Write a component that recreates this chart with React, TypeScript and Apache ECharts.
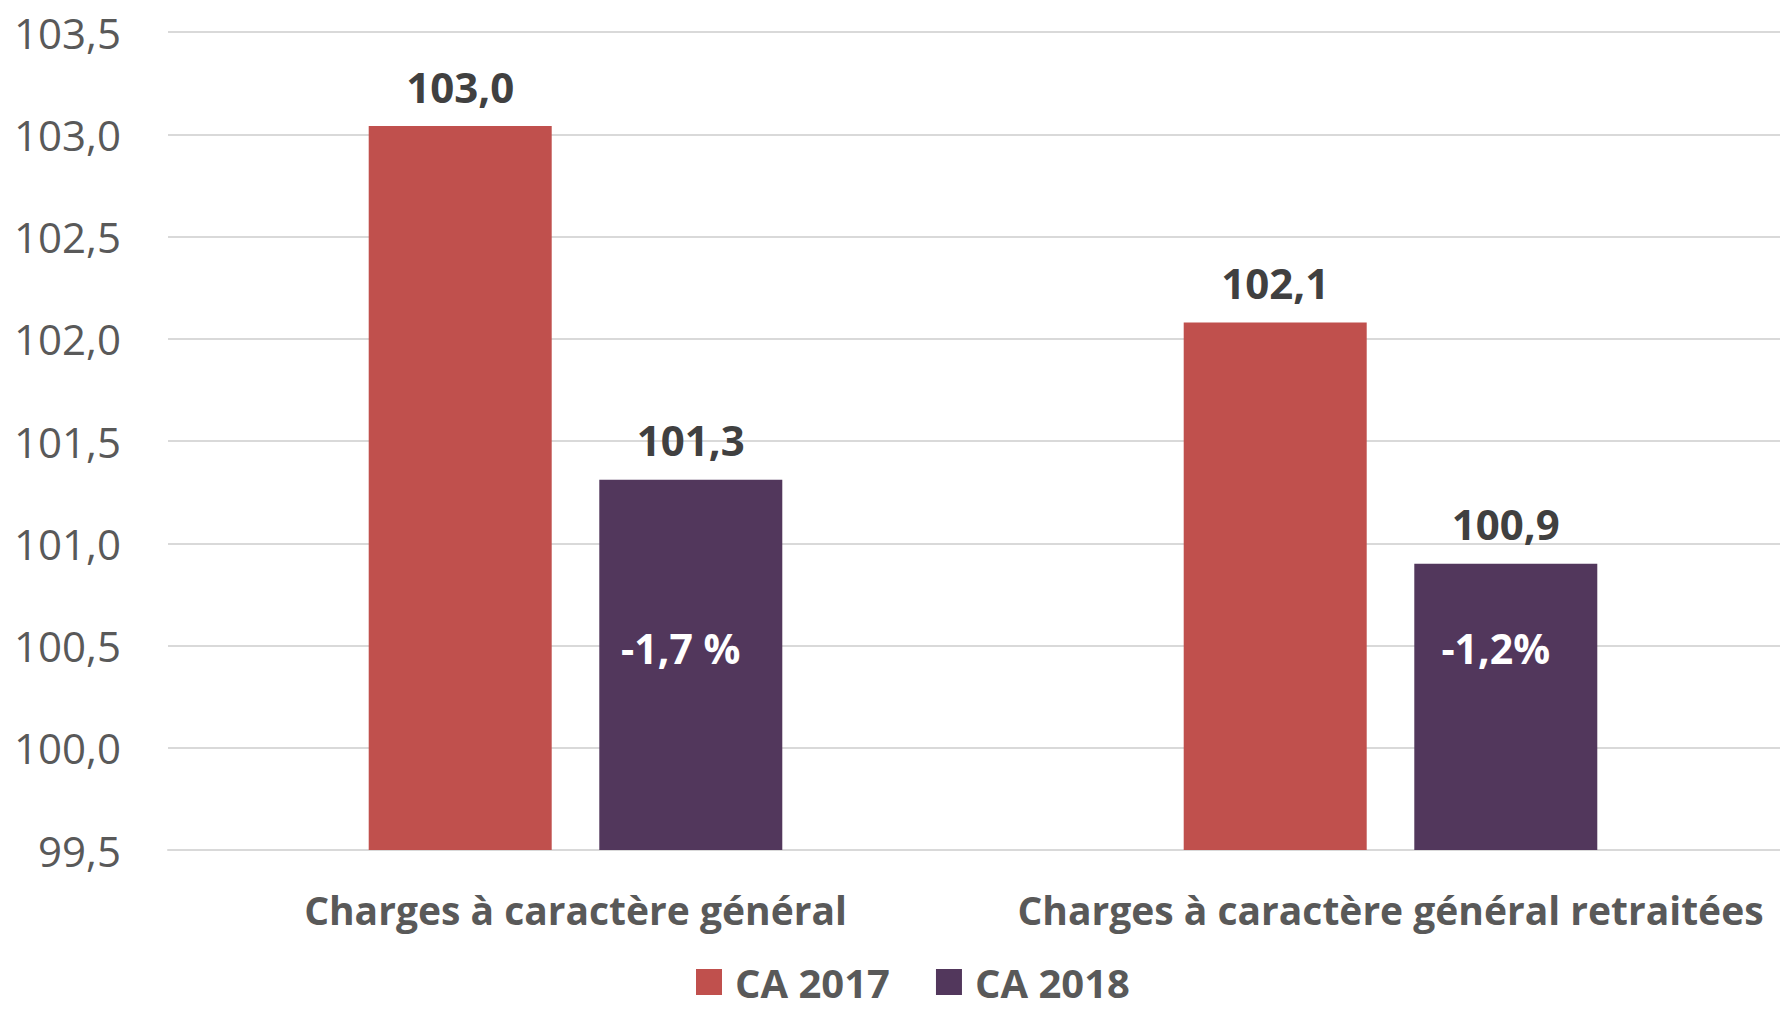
import React, { useEffect, useRef } from "react";
import * as echarts from "echarts";

const categories = ["Charges à caractère général", "Charges à caractère général retraitées"];
const seriesNames = ["CA 2017", "CA 2018"];
const values2017 = [103.04, 102.08];
const values2018 = [101.31, 100.9];
const valueLabels2017 = ["103,0", "102,1"];
const valueLabels2018 = ["101,3", "100,9"];
const changeLabels = ["-1,7 %", "-1,2%"];
const changeLabelLevel = 100.49;
const yTicks = { min: 99.5, max: 103.5, interval: 0.5 };

const FONT = "'Open Sans', 'Noto Sans', sans-serif";
const RED = "#C0504D";
const PURPLE = "#52375C";

export default function App() {
  const ref = useRef<HTMLDivElement>(null);
  useEffect(() => {
    if (!ref.current) return;
    const chart = echarts.init(ref.current, null, { renderer: "svg" });
    const topLabel = (labels: string[]) => ({
      show: true,
      position: "top",
      distance: 19,
      fontFamily: FONT,
      fontWeight: "bold",
      fontSize: 42,
      color: "#404040",
      formatter: (p: any) => labels[p.dataIndex],
    });
    chart.setOption({
      animation: false,
      textStyle: { fontFamily: FONT },
      grid: { left: 168, right: 0, top: 32, bottom: 162, containLabel: false },
      legend: {
        data: seriesNames,
        left: 691,
        top: 957,
        itemWidth: 26,
        itemHeight: 26,
        itemGap: 46,
        icon: "rect",
        textStyle: {
          fontFamily: FONT,
          fontWeight: "bold",
          fontSize: 40,
          lineHeight: 40,
          color: "#595959",
          padding: [0, 0, 0, 8],
        },
      },
      xAxis: {
        type: "category",
        data: categories,
        axisLine: { show: true, lineStyle: { color: "#D9D9D9", width: 2 } },
        axisTick: { show: false },
        axisLabel: {
          interval: 0,
          margin: 40,
          fontFamily: FONT,
          fontWeight: "bold",
          fontSize: 39,
          color: "#595959",
        },
      },
      yAxis: {
        type: "value",
        min: yTicks.min,
        max: yTicks.max,
        interval: yTicks.interval,
        axisLine: { show: false },
        axisTick: { show: false },
        splitLine: { lineStyle: { color: "#D9D9D9", width: 2 } },
        axisLabel: {
          margin: 47,
          fontFamily: FONT,
          fontSize: 42,
          color: "#595959",
          formatter: (v: number) => v.toFixed(1).replace(".", ","),
        },
      },
      series: [
        {
          name: seriesNames[0],
          type: "bar",
          data: values2017,
          barWidth: 183,
          barGap: "26%",
          itemStyle: { color: RED },
          label: topLabel(valueLabels2017),
        },
        {
          name: seriesNames[1],
          type: "bar",
          data: values2018,
          barWidth: 183,
          barGap: "26%",
          itemStyle: { color: PURPLE },
          label: topLabel(valueLabels2018),
          markPoint: {
            symbol: "circle",
            symbolSize: 1,
            itemStyle: { color: "rgba(0,0,0,0)" },
            label: {
              show: true,
              position: "inside",
              offset: [-10, 0],
              fontFamily: FONT,
              fontWeight: "bold",
              fontSize: 41,
              color: "#FFFFFF",
              formatter: (p: any) => p.name,
            },
            data: changeLabels.map((t, i) => ({
              name: t,
              coord: [i, changeLabelLevel],
            })),
          },
        },
      ],
    });
    return () => chart.dispose();
  }, []);
  return (
    <div style={{ width: 1780, height: 1012, position: "absolute", left: 0, top: 0, overflow: "hidden" }}>
      <div ref={ref} style={{ width: 1798, height: 1012, position: "absolute", left: 0, top: 0 }} />
    </div>
  );
}
